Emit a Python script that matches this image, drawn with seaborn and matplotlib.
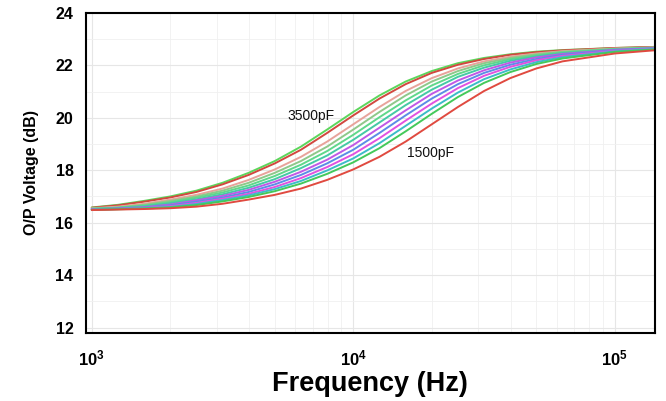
import numpy as np
import pandas as pd
import matplotlib
matplotlib.use("Agg")
import matplotlib.pyplot as plt
from matplotlib.ticker import MultipleLocator, LogLocator, NullFormatter
import seaborn as sns

# frequency points (Hz), read along the log axis
freq = [1000, 1259, 1585, 1995, 2512, 3162, 3981, 5012, 6310, 7943, 10000,
        12589, 15849, 19953, 25119, 31623, 39811, 50119, 63096, 100000, 141254]

# O/P voltage (dB) per curve, top (3500pF) to bottom (1500pF)
c0 = [16.58, 16.68, 16.83, 17.00, 17.22, 17.52, 17.90, 18.35, 18.90, 19.55, 20.22, 20.85, 21.38, 21.78, 22.08, 22.28, 22.42, 22.52, 22.58, 22.66, 22.70]
c1 = [16.57, 16.66, 16.80, 16.96, 17.17, 17.46, 17.82, 18.26, 18.78, 19.42, 20.09, 20.73, 21.28, 21.71, 22.02, 22.24, 22.40, 22.50, 22.57, 22.66, 22.70]
c2 = [16.55, 16.61, 16.72, 16.88, 17.06, 17.30, 17.63, 18.03, 18.51, 19.09, 19.75, 20.41, 21.02, 21.51, 21.88, 22.15, 22.33, 22.45, 22.54, 22.64, 22.68]
c3 = [16.54, 16.58, 16.68, 16.83, 17.00, 17.22, 17.52, 17.90, 18.35, 18.90, 19.55, 20.22, 20.85, 21.38, 21.78, 22.08, 22.28, 22.42, 22.52, 22.63, 22.68]
c4 = [16.53, 16.57, 16.65, 16.78, 16.95, 17.15, 17.42, 17.78, 18.21, 18.73, 19.35, 20.02, 20.66, 21.23, 21.67, 22.00, 22.23, 22.38, 22.49, 22.62, 22.67]
c5 = [16.52, 16.56, 16.62, 16.74, 16.89, 17.08, 17.33, 17.66, 18.08, 18.56, 19.16, 19.82, 20.48, 21.07, 21.56, 21.91, 22.17, 22.34, 22.46, 22.60, 22.66]
c6 = [16.51, 16.54, 16.59, 16.69, 16.85, 17.02, 17.25, 17.56, 17.94, 18.40, 18.96, 19.62, 20.28, 20.91, 21.42, 21.81, 22.10, 22.30, 22.43, 22.59, 22.65]
c7 = [16.51, 16.53, 16.57, 16.66, 16.80, 16.96, 17.17, 17.46, 17.82, 18.26, 18.78, 19.42, 20.09, 20.73, 21.28, 21.71, 22.02, 22.24, 22.40, 22.57, 22.64]
c8 = [16.50, 16.52, 16.56, 16.63, 16.75, 16.91, 17.10, 17.36, 17.70, 18.12, 18.61, 19.22, 19.89, 20.54, 21.13, 21.60, 21.94, 22.19, 22.36, 22.55, 22.63]
c9 = [16.49, 16.52, 16.55, 16.60, 16.71, 16.86, 17.04, 17.28, 17.59, 17.99, 18.45, 19.03, 19.69, 20.35, 20.96, 21.47, 21.84, 22.12, 22.31, 22.53, 22.62]
c10 = [16.49, 16.51, 16.54, 16.58, 16.67, 16.81, 16.98, 17.20, 17.49, 17.86, 18.30, 18.84, 19.48, 20.15, 20.79, 21.33, 21.74, 22.05, 22.26, 22.51, 22.60]
c11 = [16.48, 16.50, 16.52, 16.55, 16.61, 16.72, 16.88, 17.06, 17.30, 17.63, 18.03, 18.51, 19.09, 19.75, 20.41, 21.02, 21.51, 21.88, 22.15, 22.45, 22.57]

curves = [c0, c1, c2, c3, c4, c5, c6, c7, c8, c9, c10, c11]
colors = ['#5cd65c', '#d2483f', '#e8a39b', '#8fc88a', '#5fd88a', '#45c9a5',
          '#c058e6', '#5b8de6', '#e052e0', '#3cbcc8', '#44c95a', '#e04a40']

xticks = [1e3, 1e4, 1e5]
xticklabels = [r'$\mathbf{10^{3}}$', r'$\mathbf{10^{4}}$', r'$\mathbf{10^{5}}$']
yticks = [12, 14, 16, 18, 20, 22, 24]

rows = []
for i, c in enumerate(curves):
    for f, v in zip(freq, c):
        rows.append((f"c{i}", f, v))
df = pd.DataFrame(rows, columns=["curve", "freq", "volt"])

sns.set_theme(style="white")
plt.rcParams['font.family'] = ['Liberation Sans', 'DejaVu Sans']
plt.rcParams['mathtext.fontset'] = 'custom'
plt.rcParams['mathtext.bf'] = 'Liberation Sans:bold'
plt.rcParams['text.color'] = 'black'
plt.rcParams['axes.labelcolor'] = 'black'
plt.rcParams['xtick.labelcolor'] = 'black'
plt.rcParams['ytick.labelcolor'] = 'black'

fig = plt.figure(figsize=(6.66, 4.01), dpi=100)
ax = fig.add_axes([0.129, 0.170, 0.854, 0.798])

sns.lineplot(data=df, x="freq", y="volt", hue="curve",
             hue_order=[f"c{i}" for i in range(len(curves))],
             palette=colors, legend=False, linewidth=1.4, ax=ax)

ax.set_xscale("log")
ax.set_xlim(950, 1.42e5)
ax.set_ylim(11.8, 24.0)

ax.set_xticks(xticks)
ax.set_xticklabels(xticklabels)
ax.xaxis.set_minor_locator(LogLocator(base=10, subs=np.arange(2, 10)))
ax.xaxis.set_minor_formatter(NullFormatter())
ax.set_yticks(yticks)
ax.yaxis.set_minor_locator(MultipleLocator(1))

ax.grid(True, which="major", color="#e6e6e6", linewidth=0.8)
ax.grid(True, which="minor", color="#f0f0f0", linewidth=0.6)
ax.set_axisbelow(True)

for s in ax.spines.values():
    s.set_color("black")
    s.set_linewidth(1.5)

ax.tick_params(axis="both", which="major", direction="out", length=3,
               color="#999999", labelsize=11.5, pad=6)
ax.tick_params(axis="both", which="minor", direction="out", length=2,
               color="#bbbbbb")
ax.tick_params(axis="x", which="major", pad=8, labelsize=12)
for lab in ax.get_yticklabels():
    lab.set_fontweight("bold")

ax.set_xlabel("Frequency (Hz)", fontsize=19.5, fontweight="bold", labelpad=2)
ax.set_ylabel("O/P Voltage (dB)", fontsize=11.5, fontweight="bold", labelpad=12)

ax.text(6.9e3, 20.08, "3500pF", fontsize=10, color="#111111",
        ha="center", va="center")
ax.text(1.98e4, 18.65, "1500pF", fontsize=10, color="#111111",
        ha="center", va="center")

plt.savefig("out.png", dpi=100)
plt.close()
